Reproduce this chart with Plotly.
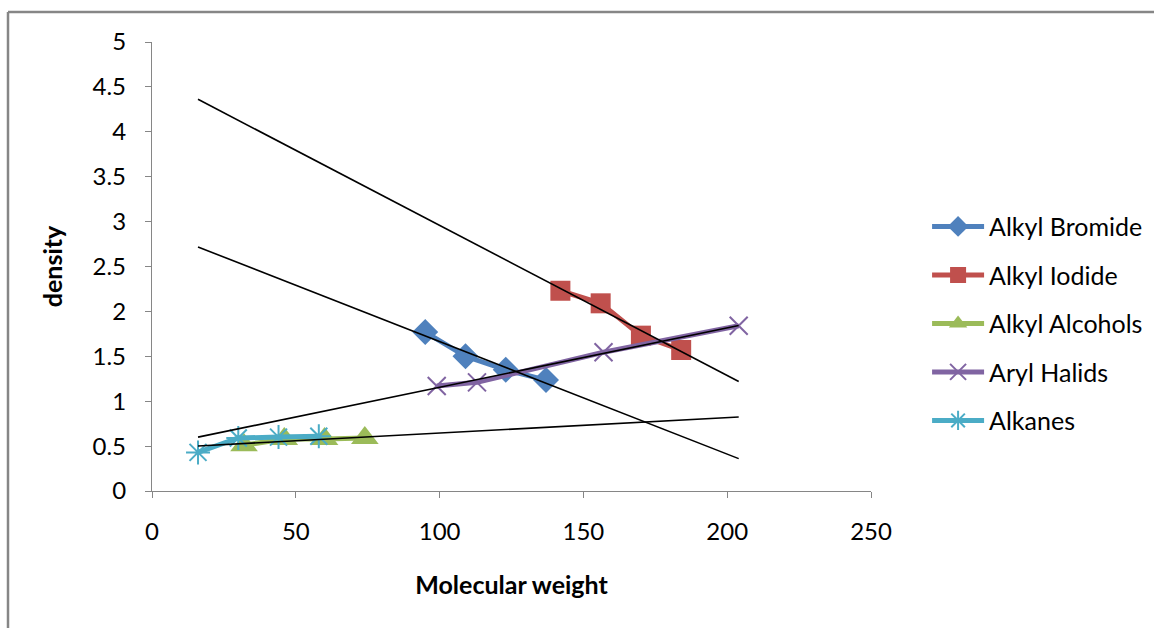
import numpy as np
import plotly.graph_objects as go

# Data
bromide_x = [95, 109, 123, 137]
bromide_y = [1.77, 1.50, 1.35, 1.235]
iodide_x = [142, 156, 170, 184]
iodide_y = [2.23, 2.09, 1.73, 1.57]
alcohol_x = [32, 46, 60, 74]
alcohol_y = [0.51, 0.58, 0.58, 0.59]
aryl_x = [99, 113, 157, 204]
aryl_y = [1.17, 1.21, 1.545, 1.84]
alkane_x = [16, 30, 44, 58]
alkane_y = [0.43, 0.59, 0.60, 0.61]

series = [
    ("Alkyl Bromide", bromide_x, bromide_y, "#4F81BD", "diamond", 20, 0),
    ("Alkyl Iodide", iodide_x, iodide_y, "#C0504D", "square", 20, 0),
    ("Alkyl Alcohols", alcohol_x, alcohol_y, "#9BBB59", "triangle-up", 24, 0),
    ("Aryl Halids", aryl_x, aryl_y, "#8064A2", "x-thin-open", 18, 2),
    ("Alkanes", alkane_x, alkane_y, "#4BACC6", "asterisk-open", 20, 2),
]
trend_series = [(bromide_x, bromide_y), (iodide_x, iodide_y),
                 (alcohol_x, alcohol_y), (aryl_x, aryl_y)]

FONT = "Lato"
fig = go.Figure()
for i, (name, xs, ys, col, sym, sz, lw) in enumerate(series):
    marker = dict(symbol=sym, size=sz, color=col)
    if lw:
        marker["line"] = dict(color=col, width=lw)
    fig.add_trace(go.Scatter(
        x=xs, y=ys, name=name, mode="lines+markers",
        line=dict(color=col, width=5), marker=marker,
        legendgroup=f"g{i}"))

all_x = bromide_x + iodide_x + alcohol_x + aryl_x + alkane_x
xmin, xmax = min(all_x), max(all_x)
for xs, ys in trend_series:
    m, b = np.polyfit(xs, ys, 1)
    fig.add_trace(go.Scatter(
        x=[xmin, xmax], y=[m * xmin + b, m * xmax + b], mode="lines",
        line=dict(color="black", width=1.6), showlegend=False,
        hoverinfo="skip"))

axis_common = dict(
    showline=True, linecolor="#868686", linewidth=1.3,
    ticks="outside", tickcolor="#868686", ticklen=6, tickwidth=1.3,
    showgrid=False, zeroline=False, tickfont=dict(family=FONT, size=24, color="black"),
)
FW, FH = 1154, 628
L, T, W, H = 152, 42, 719, 449
border = dict(color="#868686", width=2.5)
bx = (8 - L) / W
by = (T + H - 12) / H
fig.update_layout(
    width=FW, height=FH,
    margin=dict(l=L, r=FW - L - W, t=T, b=FH - T - H, autoexpand=False),
    paper_bgcolor="white", plot_bgcolor="white",
    font=dict(family=FONT, size=24, color="black"),
    xaxis=dict(range=[0, 250], dtick=50, ticklabelstandoff=13,
               title=dict(text="<b>Molecular weight</b>", standoff=32,
                          font=dict(family=FONT, size=25)),
               **axis_common),
    yaxis=dict(range=[0, 5], dtick=0.5, ticklabelstandoff=14,
               title=dict(text="<b>density</b>", standoff=22,
                          font=dict(family=FONT, size=25)),
               **axis_common),
    legend=dict(x=1.078, y=0.64, xanchor="left", yanchor="top",
                font=dict(family=FONT, size=25), tracegroupgap=13,
                itemwidth=52, bgcolor="rgba(0,0,0,0)"),
    showlegend=True,
    shapes=[
        dict(type="line", xref="paper", yref="paper",
             x0=bx, x1=bx, y0=-0.5, y1=by, line=border, layer="below"),
        dict(type="line", xref="paper", yref="paper",
             x0=bx, x1=1.6, y0=by, y1=by, line=border, layer="below"),
    ],
)
fig.write_html("out.html", config={"displayModeBar": False},
               post_script="document.body.style.margin='0';document.body.style.overflow='hidden';")
